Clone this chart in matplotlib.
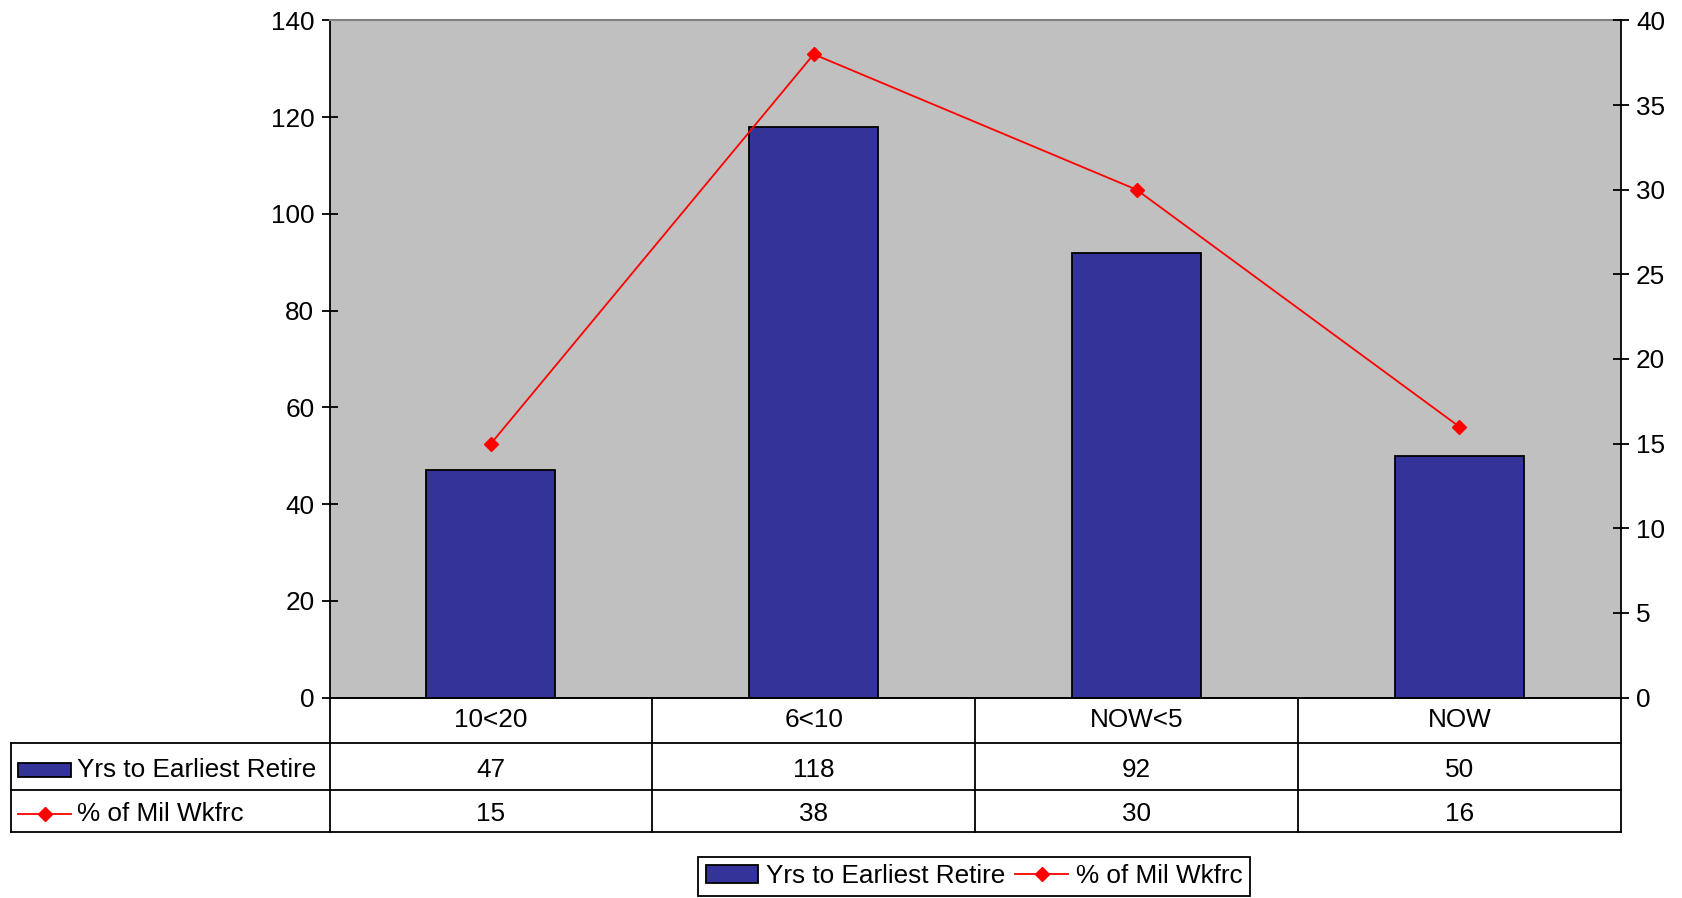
import matplotlib
matplotlib.use("Agg")
import matplotlib.pyplot as plt
from matplotlib.patches import Rectangle, Patch
from matplotlib.lines import Line2D
import matplotlib.transforms as mtransforms

plt.rcParams['font.family'] = ['Liberation Sans', 'DejaVu Sans']

# Data
categories = ["10<20", "6<10", "NOW<5", "NOW"]
yrs_to_retire = [47, 118, 92, 50]
pct_mil_wkfrc = [15, 38, 30, 16]
bar_label = "Yrs to Earliest Retire"
line_label = "% of Mil Wkfrc"
left_ticks = [0, 20, 40, 60, 80, 100, 120, 140]
right_ticks = [0, 5, 10, 15, 20, 25, 30, 35, 40]

BAR_COLOR = "#333399"
LINE_COLOR = "#FF0000"
PLOT_BG = "#C0C0C0"
FS = 18.8
LW = 1.3

fig = plt.figure(figsize=(16.83, 8.98), dpi=100)
ax = fig.add_axes([0.1958, 0.2232, 0.7672, 0.7541])
ax.set_facecolor(PLOT_BG)

xpos = list(range(len(categories)))
ax.bar(xpos, yrs_to_retire, width=0.4, color=BAR_COLOR, edgecolor="black",
       linewidth=LW, zorder=2)
ax.set_xlim(-0.5, len(categories) - 0.5)
ax.set_ylim(left_ticks[0], left_ticks[-1])
ax.set_yticks(left_ticks)
ax.set_xticks([])
ax.tick_params(axis="y", direction="inout", length=12, width=LW,
               labelsize=FS, pad=5)
ax.spines["top"].set_color("#808080")
ax.spines["top"].set_linewidth(1.5)
ax.spines["right"].set_visible(False)
ax.spines["left"].set_linewidth(LW)
ax.spines["bottom"].set_linewidth(LW)

ax2 = ax.twinx()
ax2.plot(xpos, pct_mil_wkfrc, color=LINE_COLOR, lw=1.3, marker="D", ms=7.5,
         zorder=3)
ax2.set_ylim(right_ticks[0], right_ticks[-1])
ax2.set_yticks(right_ticks)
ax2.tick_params(axis="y", direction="inout", length=12, width=LW,
                labelsize=FS, pad=5)
for side in ("top", "left", "bottom"):
    ax2.spines[side].set_visible(False)
ax2.spines["right"].set_linewidth(LW)

# Data table beneath the plot
row_y = [0.2232, 0.1730, 0.1203, 0.0737]
label_left_fig = 0.0064


def fig_x_to_data(fx):
    disp = fig.transFigure.transform((fx, 0))
    return ax.transData.inverted().transform(disp)[0]


tr = mtransforms.blended_transform_factory(ax.transData, fig.transFigure)
x_lab = fig_x_to_data(label_left_fig)
x_end = len(categories) - 0.5
line_kw = dict(color="black", lw=LW, transform=tr, clip_on=False)

# horizontal rules
fig.add_artist(Line2D([-0.5, x_end], [row_y[0], row_y[0]], **line_kw))
for yy in row_y[1:]:
    fig.add_artist(Line2D([x_lab, x_end], [yy, yy], **line_kw))
# vertical rules
for i in range(len(categories) + 1):
    xv = i - 0.5
    fig.add_artist(Line2D([xv, xv], [row_y[3], row_y[0]], **line_kw))
fig.add_artist(Line2D([x_lab, x_lab], [row_y[3], row_y[1]], **line_kw))

hdr_c = (row_y[0] + row_y[1]) / 2
r1_c = (row_y[1] + row_y[2]) / 2 - 0.004
r2_c = (row_y[2] + row_y[3]) / 2 - 0.004
for i, cat in enumerate(categories):
    fig.text(i, hdr_c, cat, transform=tr, ha="center", va="center", fontsize=FS)
    fig.text(i, r1_c, str(yrs_to_retire[i]), transform=tr, ha="center",
             va="center", fontsize=FS)
    fig.text(i, r2_c, str(pct_mil_wkfrc[i]), transform=tr, ha="center",
             va="center", fontsize=FS)

# row headers with their keys
key_x0, key_w = 0.0107, 0.0315
key_h = 0.0156
fig.add_artist(Rectangle((key_x0, r1_c - key_h / 2), key_w, key_h,
                         facecolor=BAR_COLOR, edgecolor="black", lw=LW,
                         transform=fig.transFigure))
fig.add_artist(Line2D([key_x0, key_x0 + key_w], [r2_c, r2_c], color=LINE_COLOR,
                      lw=1.3, transform=fig.transFigure))
fig.add_artist(Line2D([key_x0 + key_w / 2], [r2_c], color=LINE_COLOR, marker="D",
                      ms=7.5, lw=0, transform=fig.transFigure))
fig.text(0.0459, r1_c, bar_label, ha="left", va="center", fontsize=FS)
fig.text(0.0459, r2_c, line_label, ha="left", va="center", fontsize=FS)

# Legend
handles = [Patch(facecolor=BAR_COLOR, edgecolor="black", lw=LW),
           Line2D([], [], color=LINE_COLOR, lw=1.3, marker="D", ms=7.5)]
leg = fig.legend(handles, [bar_label, line_label], loc="center",
                 bbox_to_anchor=(0.5787, 0.024), ncol=2, fontsize=FS,
                 frameon=True, fancybox=False, edgecolor="black",
                 framealpha=1, handlelength=2.0, handletextpad=0.3,
                 columnspacing=0.4, borderpad=0.3, borderaxespad=0.0)
leg.get_frame().set_linewidth(LW)

fig.savefig("out.png", dpi=100)
